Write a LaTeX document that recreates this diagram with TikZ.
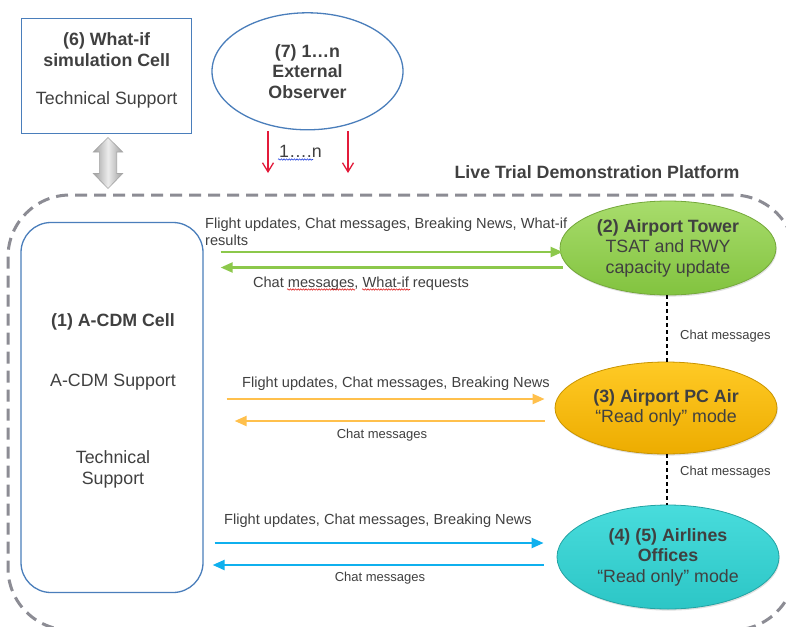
\documentclass[tikz,border=0pt]{standalone}
\usepackage{fontspec}
\setmainfont{Liberation Sans}
\usetikzlibrary{shapes.geometric,arrows.meta,decorations.pathmorphing,shadows}
\definecolor{txt}{HTML}{404040}
\definecolor{boxblue}{HTML}{4A7EBB}
\definecolor{plat}{HTML}{8C8C94}
\definecolor{grnT}{HTML}{A8DC6C}
\definecolor{grnB}{HTML}{82C33F}
\definecolor{grnD}{HTML}{74A83A}
\definecolor{orgT}{HTML}{FFCA25}
\definecolor{orgB}{HTML}{EDAC00}
\definecolor{orgD}{HTML}{C99400}
\definecolor{cynT}{HTML}{48DCDC}
\definecolor{cynB}{HTML}{2CC6C6}
\definecolor{cynD}{HTML}{23A3A3}
\definecolor{ared}{HTML}{E31B3A}
\definecolor{agrn}{HTML}{8CC84B}
\definecolor{aorg}{HTML}{FFC04C}
\definecolor{ablu}{HTML}{0FB0EE}
\definecolor{spellred}{HTML}{E02020}
\definecolor{spellblue}{HTML}{2040E0}
\tikzset{
  big/.style={font=\fontsize{17.8}{20.5}\selectfont, text=txt},
  bigb/.style={font=\fontsize{17.8}{20.5}\selectfont\bfseries, text=txt},
  lbl/.style={font=\fontsize{14.6}{17}\selectfont, text=txt, inner sep=0},
  smalllbl/.style={font=\fontsize{13}{15}\selectfont, text=txt, inner sep=0},
  cellbox/.style={draw=boxblue, line width=1.3pt},
  oval/.style={ellipse, inner sep=0, align=center, big, line width=0.8pt,
    drop shadow={shadow xshift=0.8pt, shadow yshift=-1.6pt, opacity=0.25}},
  flow/.style={line width=2.2pt, -{Triangle[length=12pt,width=10pt]}},
  obsarrow/.style={draw=ared, line width=1.3pt, -{Straight Barb[length=9pt,width=11pt,line width=1.3pt]}},
  chatlink/.style={draw=black, line width=2pt, dash pattern=on 4pt off 3pt},
  spell/.style={decorate, decoration={snake, amplitude=0.7pt, segment length=2.6pt}, line width=0.6pt},
}
\begin{document}
\begin{tikzpicture}[x=1pt,y=-1pt]
\useasboundingbox (0,0) rectangle (786,626);
\fill[white] (0,0) rectangle (786,626);

% platform frame
\node[draw=plat, line width=3pt, dash pattern=on 12pt off 7pt, rounded corners=62pt,
      minimum width=787pt, minimum height=435pt, inner sep=0] (platform) at (401.5,412.5) {};
\node[bigb, anchor=base] (platformtitle) at (597,178.5) {Live Trial Demonstration Platform};

% (6) what-if cell
\node[cellbox, minimum width=170pt, minimum height=115pt, align=center, inner sep=0,
      text depth=14pt, big] (whatif) at (106.7,75.8)
  {\textbf{(6) What-if}\\\textbf{simulation Cell}\\[18pt]Technical Support};

% (7) external observer
\node[draw=boxblue, line width=1.3pt, ellipse, minimum width=191pt, minimum height=117pt,
      inner sep=0, align=center, bigb] (obs) at (307.5,71.3)
  {(7) 1\ldots n\\External\\Observer};

% gray double arrow
\shade[left color=gray!75, right color=gray!75, middle color=gray!15, draw=gray!70, line width=0.6pt]
  (108,137.5) -- (122.7,152) -- (116.7,152) -- (116.7,173.5) -- (122.7,173.5) -- (108,188.5)
  -- (93.3,173.5) -- (99.3,173.5) -- (99.3,152) -- (93.3,152) -- cycle;

% red arrows from observer
\coordinate (r1s) at (268,131);
\coordinate (r1e) at (268,173);
\coordinate (r2s) at (348,131);
\coordinate (r2e) at (348,173);
\draw[obsarrow] (r1s) -- (r1e);
\draw[obsarrow] (r2s) -- (r2e);
\node[big, anchor=base west, inner sep=0] (obsn) at (279,157.5) {1\ldots.n};
\draw[spellblue, spell] (278,159.5) -- (313,159.5);

% (1) A-CDM cell
\node[cellbox, rounded corners=30pt, minimum width=182pt, minimum height=370pt, inner sep=0] (acdm) at (112,407.5) {};
\node[bigb, anchor=base] (acdmtitle) at (113,326.5) {(1) A-CDM Cell};
\node[big, anchor=base] (acdmsup) at (113,386) {A-CDM Support};
\node[big, anchor=base, align=center] (acdmtech) at (113,463.5) {Technical};
\node[big, anchor=base] (acdmtech2) at (113,484) {Support};

% right ellipses
\node[oval, draw=grnD, top color=grnT, bottom color=grnB, minimum width=216pt, minimum height=94pt] (tower) at (668,248)
  {\textbf{(2) Airport Tower}\\TSAT and RWY\\capacity update};
\node[oval, draw=orgD, top color=orgT, bottom color=orgB, minimum width=222pt, minimum height=92pt] (pcair) at (666,408)
  {\textbf{(3) Airport PC Air}\\``Read only'' mode};
\node[oval, draw=cynD, top color=cynT, bottom color=cynB, minimum width=222pt, minimum height=104pt] (airlines) at (668,557)
  {\textbf{(4) (5) Airlines}\\\textbf{Offices}\\``Read only'' mode};

% dashed chat links
\draw[chatlink] ([xshift=-1pt]tower.south) -- ([xshift=-1pt]tower.south |- pcair.north);
\draw[chatlink] ([xshift=1pt]pcair.south) -- ([xshift=1pt]pcair.south |- airlines.north);
\node[smalllbl, anchor=base west] (chat1) at (680,339) {Chat messages};
\node[smalllbl, anchor=base west] (chat2) at (680,475) {Chat messages};

% green flows
\coordinate (gte) at ([shift={(3,4)}]tower.west);
\coordinate (gbs) at ([shift={(3,19.5)}]tower.west);
\coordinate (gts) at (gte -| acdm.east);
\coordinate (gbe) at (gbs -| acdm.east);
\draw[flow, agrn] ([xshift=17pt]gts) -- (gte);
\draw[flow, agrn] (gbs) -- ([xshift=17pt]gbe);
\node[lbl, anchor=north west, align=left] (glbl1) at (205,218)
  {Flight updates, Chat messages, Breaking News, What-if\\results};
\node[lbl, anchor=base] (glbl2) at (361,287.5) {Chat messages, What-if requests};
\draw[spellred, spell] (287,289.5) -- (355,289.5);
\draw[spellred, spell] (362,289.5) -- (410,289.5);

% orange flows
\coordinate (ote) at ([shift={(-10,-9)}]pcair.west);
\coordinate (obs2) at ([shift={(-10,13)}]pcair.west);
\coordinate (ots) at (ote -| acdm.east);
\coordinate (obe) at (obs2 -| acdm.east);
\draw[flow, aorg] ([xshift=23pt]ots) -- (ote);
\draw[flow, aorg] (obs2) -- ([xshift=31pt]obe);
\node[lbl, anchor=base] (olbl1) at (396,387.5) {Flight updates, Chat messages, Breaking News};
\node[smalllbl, anchor=base] (olbl2) at (382,438.5) {Chat messages};

% blue flows
\coordinate (bte) at ([shift={(-13,-14)}]airlines.west);
\coordinate (bbs) at ([shift={(-13,8)}]airlines.west);
\coordinate (bts) at (bte -| acdm.east);
\coordinate (bbe) at (bbs -| acdm.east);
\draw[flow, ablu] ([xshift=11pt]bts) -- (bte);
\draw[flow, ablu] (bbs) -- ([xshift=9pt]bbe);
\node[lbl, anchor=base] (blbl1) at (378,524.5) {Flight updates, Chat messages, Breaking News};
\node[smalllbl, anchor=base] (blbl2) at (380,581.5) {Chat messages};
\end{tikzpicture}
\end{document}
